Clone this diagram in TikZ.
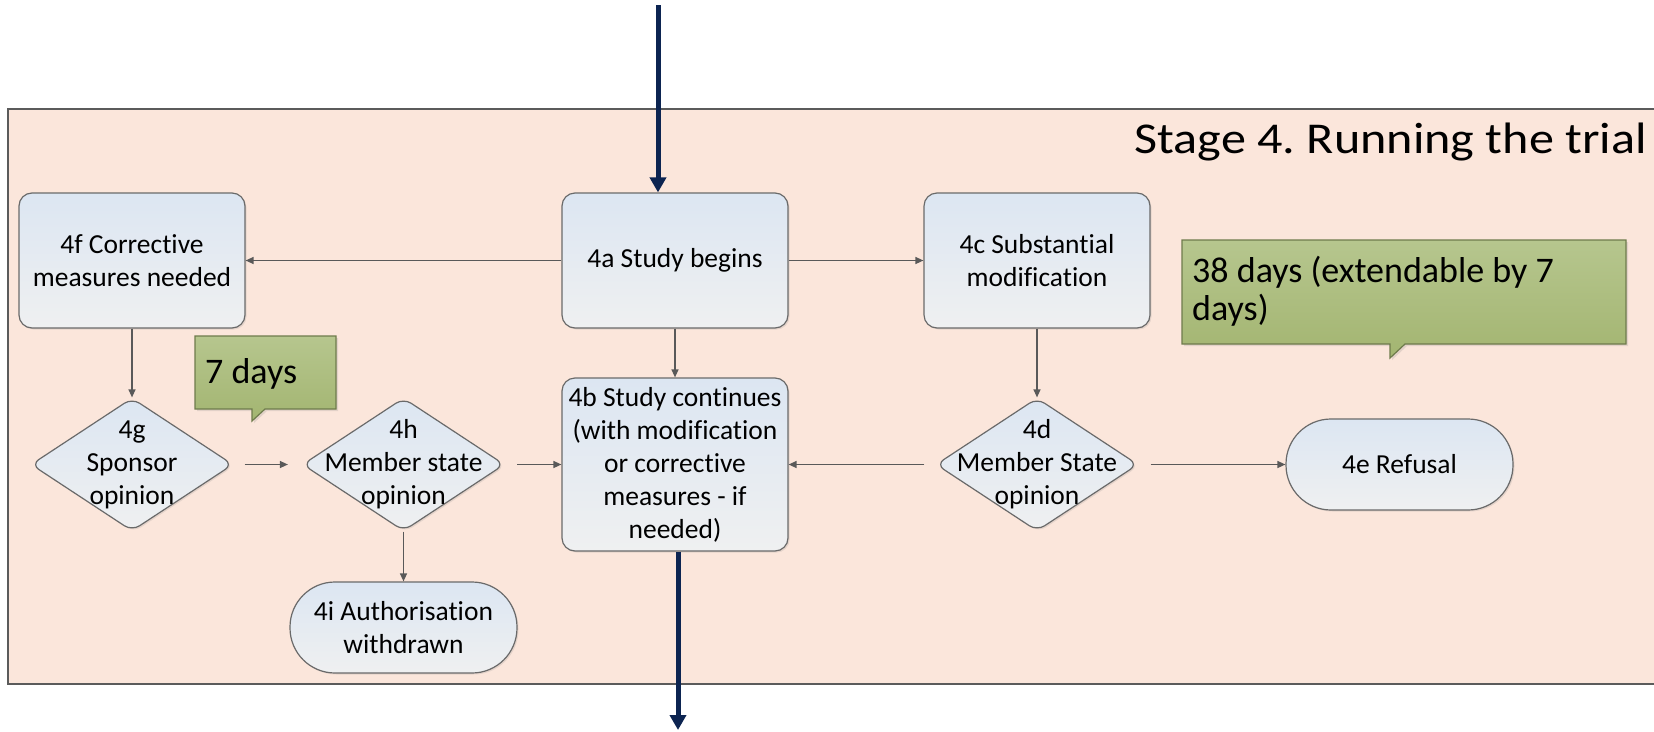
\documentclass[tikz,border=0pt]{standalone}
\usepackage{fontspec}
\setmainfont{Carlito}[Ligatures={NoCommon,NoContextual}]
\newfontfamily\titlefont{Carlito}[Ligatures={NoCommon,NoContextual},FakeStretch=1.14]
\usetikzlibrary{arrows.meta,shapes.geometric,shadows}
\frenchspacing

\definecolor{bgpeach}{HTML}{FBE6DB}
\definecolor{framegray}{HTML}{5B5B5B}
\definecolor{boxtop}{HTML}{DCE6F2}
\definecolor{boxbot}{HTML}{EFF0F1}
\definecolor{boxline}{HTML}{6A6A6A}
\definecolor{connline}{HTML}{595959}
\definecolor{navy}{HTML}{0C2451}
\definecolor{notetop}{HTML}{B6C68E}
\definecolor{notebot}{HTML}{A3B571}
\definecolor{noteline}{HTML}{6E7B4C}

\tikzset{
  boxfont/.style={font=\fontsize{27.5}{33}\selectfont},
  shaded box/.style={draw=boxline, line width=1.2pt, top color=boxtop, bottom color=boxbot,
    drop shadow={shadow xshift=1.5pt, shadow yshift=-1.5pt, opacity=0.18}},
  procbox/.style={shaded box, rectangle, rounded corners=13pt, minimum width=226pt,
    minimum height=135pt, inner sep=0pt, align=center, boxfont},
  decbox/.style={shaded box, diamond, rounded corners=9pt, minimum width=202pt,
    minimum height=133pt, inner sep=0pt},
  endbox/.style={shaded box, rectangle, rounded corners=45pt, minimum width=227pt,
    minimum height=91pt, inner sep=0pt, align=center, boxfont},
  connector/.style={draw=connline, line width=1.3pt, -{Triangle[length=8pt,width=7pt]}},
  flow/.style={draw=navy, line width=5pt, -{Triangle[length=15pt,width=16pt]}},
  note/.style={draw=noteline, line width=1.2pt, top color=notetop, bottom color=notebot,
    drop shadow={shadow xshift=2pt, shadow yshift=-2pt, opacity=0.2}},
  notetext/.style={font=\fontsize{36}{38}\selectfont, inner sep=0pt, anchor=base west, align=left},
}

\begin{document}
\begin{tikzpicture}[x=1pt,y=-1pt]
\useasboundingbox (0,0) rectangle (1654,731);
\clip (0,0) rectangle (1654,731);

% stage panel
\draw[fill=bgpeach, draw=framegray, line width=1.5pt] (8,109) rectangle (1690,684);
\node[anchor=base east, font=\titlefont\fontsize{44}{50}\selectfont, inner sep=0pt] (title)
  at (1647,153) {Stage 4. Running the trial};

% process steps
\node[procbox] (a) at (675,260.5) {4a Study begins};
\node[procbox] (f) at (132,260.5) {4f Corrective\\measures needed};
\node[procbox] (c) at (1037,260.5) {4c Substantial\\modification};
\node[procbox, minimum height=173pt] (b) at (675,464.5)
  {4b Study continues\\(with modification\\or corrective\\measures - if\\needed)};

% decisions
\node[decbox, label={[boxfont, align=center]center:4g\\Sponsor\\opinion}] (g) at (132,464.5) {};
\node[decbox, label={[boxfont, align=center]center:4h\\Member state\\opinion}] (h) at (403.5,464.5) {};
\node[decbox, label={[boxfont, align=center]center:4d\\Member State\\opinion}] (d) at (1037,464.5) {};

% end points
\node[endbox] (e) at (1399.5,464.5) {4e Refusal};
\node[endbox] (i) at (403.5,627.5) {4i Authorisation\\withdrawn};

% time notes
\draw[note] (195,336) -- (336,336) -- (336,409) -- (265,409) -- (252,421) -- (252,409)
  -- (195,409) -- cycle;
\node[notetext] (n7) at (205,383) {7 days};
\draw[note] (1182,240) -- (1626,240) -- (1626,344) -- (1405,344) -- (1390,358) -- (1390,344)
  -- (1182,344) -- cycle;
\node[notetext] (n38) at (1192,320) {38 days (extendable by 7\\days)};

% connectors
\draw[connector] (a) -- (f);
\draw[connector] (a) -- (c);
\draw[connector] (a) -- (b);
\draw[connector] (f) -- (g);
\draw[connector] (c) -- (d);
\draw[connector, shorten <=11pt, shorten >=14pt] (g) -- (h);
\draw[connector, shorten <=12pt] (h) -- (b);
\draw[connector, shorten <=11pt] (d) -- (b);
\draw[connector, shorten <=12pt] (d) -- (e);
\draw[connector] (h) -- (i);

% flow into and out of the stage
\coordinate (in) at (658,5);
\coordinate (out) at (678,730);
\draw[flow] (in) -- (in |- a.north);
\draw[flow] (b.south -| out) -- (out);
\end{tikzpicture}
\end{document}
